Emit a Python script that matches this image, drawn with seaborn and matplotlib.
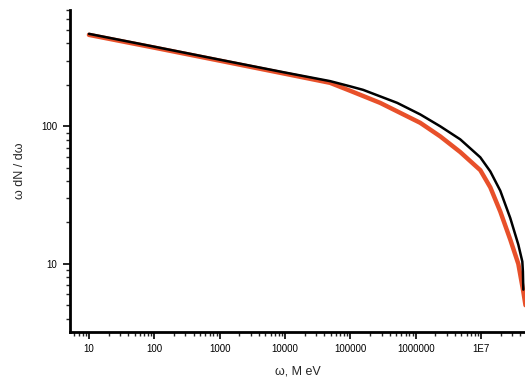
import seaborn as sns
import matplotlib.pyplot as plt
import matplotlib.ticker as ticker
import pandas as pd

# datos (omega en MeV, omega dN/domega)
omega_negro = [10, 100, 1000, 10000, 48980, 100000, 157000, 521000, 1172000, 2371000, 4797000,
               9727000, 13840000, 19680000, 27990000, 37150000, 42760000, 43650000, 44260000]
espectro_negro = [470, 379, 305, 246, 213, 195, 184, 148, 122, 100, 80.4,
                  59.5, 47, 34, 21.5, 13.8, 10.4, 8.8, 6.5]

omega_rojo = [10, 100, 1000, 10000, 48980, 100000, 285800, 1172000, 2371000, 4797000,
              9727000, 13840000, 19680000, 27990000, 37150000, 44260000, 47860000]
espectro_rojo = [462, 373, 300, 241, 207, 181, 148, 106, 84.5, 65,
                 48, 36, 24, 15, 10, 6.3, 5.0]

etiquetas_x = {10: '10', 100: '100', 1000: '1000', 10000: '10000', 100000: '100000', 1000000: '1000000', 10000000: '1E7'}

dfNegro = pd.DataFrame({'omega': omega_negro, 'espectro': espectro_negro})
dfRojo = pd.DataFrame({'omega': omega_rojo, 'espectro': espectro_rojo})

sns.set_style('ticks')
plt.rcParams['font.family'] = ['Liberation Sans', 'DejaVu Sans']
fig = plt.figure(figsize=(5.25, 3.86), dpi=100)
ax = fig.add_axes([0.133, 0.140, 0.867, 0.834])

sns.lineplot(x='omega', y='espectro', data=dfRojo, color='#e8502a', linewidth=3.2, ax=ax)
sns.lineplot(x='omega', y='espectro', data=dfNegro, color='black', linewidth=1.8, ax=ax)

ax.set_xscale('log')
ax.set_yscale('log')
ax.set_xlim(5.1, 4.7e7)
ax.set_ylim(3.2, 700)

ax.xaxis.set_major_locator(ticker.LogLocator(base=10, numticks=12))
ax.xaxis.set_minor_locator(ticker.LogLocator(base=10, subs=range(2, 10), numticks=12))
ax.xaxis.set_major_formatter(ticker.FuncFormatter(lambda v, p: etiquetas_x.get(int(round(v)), '')))
ax.xaxis.set_minor_formatter(ticker.NullFormatter())
ax.yaxis.set_major_locator(ticker.FixedLocator([10, 100]))
ax.yaxis.set_minor_locator(ticker.LogLocator(base=10, subs=range(2, 10), numticks=12))
ax.yaxis.set_major_formatter(ticker.FuncFormatter(lambda v, p: '%d' % v))
ax.yaxis.set_minor_formatter(ticker.NullFormatter())

ax.tick_params(which='major', direction='out', length=5, width=1.2, labelsize=7, colors='black', pad=4)
ax.tick_params(which='minor', direction='out', length=3, width=1)

for lado in ['top', 'right']:
    ax.spines[lado].set_visible(False)
for lado in ['left', 'bottom']:
    ax.spines[lado].set_linewidth(2)
    ax.spines[lado].set_color('black')

ax.set_xlabel('ω, M eV', fontsize=9, labelpad=8)
ax.set_ylabel('ω dN / dω', fontsize=9, labelpad=11)

plt.savefig('out.png', dpi=100)
